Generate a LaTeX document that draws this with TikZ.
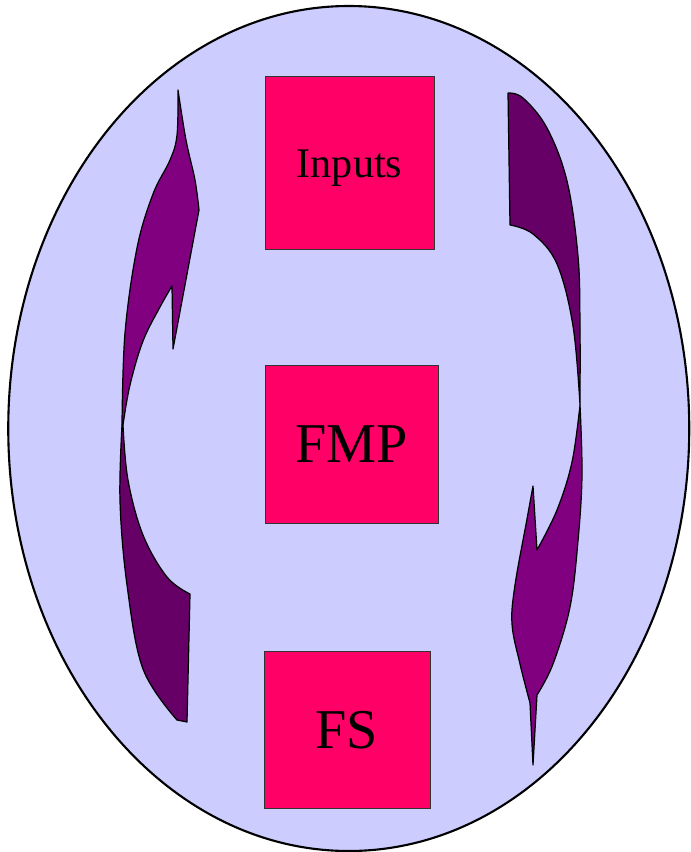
\documentclass[tikz,border=0pt]{standalone}
\usepackage{fontspec}
\setmainfont{Liberation Serif}
\usepackage{tikz}
\definecolor{FlowLilac}{HTML}{CCCCFF}
\definecolor{FlowPink}{HTML}{FF0066}
\definecolor{FlowPurple}{HTML}{800080}
\definecolor{FlowPlum}{HTML}{660066}
\begin{document}
\begin{tikzpicture}[
  x=0.02cm, y=-0.02cm,
  stage/.style={draw=black!80,line width=0.5pt,fill=FlowPink,inner sep=0pt,align=center},
  lightpart/.style={fill=FlowPurple,draw=black,line width=0.7pt,line join=round},
  darkpart/.style={fill=FlowPlum,draw=black,line width=0.7pt,line join=round}
]
\useasboundingbox (0,0) rectangle (690,852);
\draw[fill=FlowLilac,line width=1.2pt] (348.75,428.5) ellipse [x radius=340.5, y radius=422.5];
% boxes
\node[stage,minimum width=3.38cm,minimum height=3.46cm,font=\fontsize{24}{28}\selectfont] (inputs) at (349.5,163) {\raisebox{-8.5pt}[0pt][0pt]{Inputs}};
\node[stage,minimum width=3.46cm,minimum height=3.16cm,font=\fontsize{32}{36}\selectfont] (fmp) at (351.5,444) {\raisebox{-10.8pt}[0pt][0pt]{FMP}};
\node[stage,minimum width=3.32cm,minimum height=3.14cm,font=\fontsize{32}{36}\selectfont] (fs) at (347,729.5) {\raisebox{-11pt}[0pt][0pt]{FS}};
% left arrow, pointing up
\draw[lightpart] plot[smooth,tension=0.6] coordinates {(122,425) (125,333) (137,248) (153,194) (170,160) (177,135) (178,90)}
  -- plot[smooth,tension=0.6] coordinates {(178,90) (186,140) (195,180) (199,210)}
  -- (173,349) -- (172,286)
  -- plot[smooth,tension=0.6] coordinates {(172,286) (160,307) (143,341) (130,385) (123,425)} -- cycle;
\draw[darkpart] plot[smooth,tension=0.6] coordinates {(123,425) (128,480) (143,535) (167,577) (190,594)}
  -- (187,722) -- (177,720)
  -- plot[smooth,tension=0.6] coordinates {(177,720) (143,669) (127,585) (120,501) (122,425)} -- cycle;
% right arrow, pointing down
\draw[darkpart] plot[smooth,tension=0.6] coordinates {(508,93) (523,98) (547,128) (567,181) (578,256) (580,326) (580,405)}
  -- plot[smooth,tension=0.6] coordinates {(580,405) (573,326) (557,264) (533,234) (510,225)} -- cycle;
\draw[lightpart] plot[smooth,tension=0.6] coordinates {(580,405) (582,475) (578,541) (570,607) (553,664) (537,695)}
  -- (533,765) -- (530,703)
  -- plot[smooth,tension=0.6] coordinates {(530,703) (520,664) (512,624) (515,585) (527,519) (533,486)}
  -- (537,550)
  -- plot[smooth,tension=0.6] coordinates {(537,550) (557,510) (572,462) (580,405)} -- cycle;
\end{tikzpicture}
\end{document}
